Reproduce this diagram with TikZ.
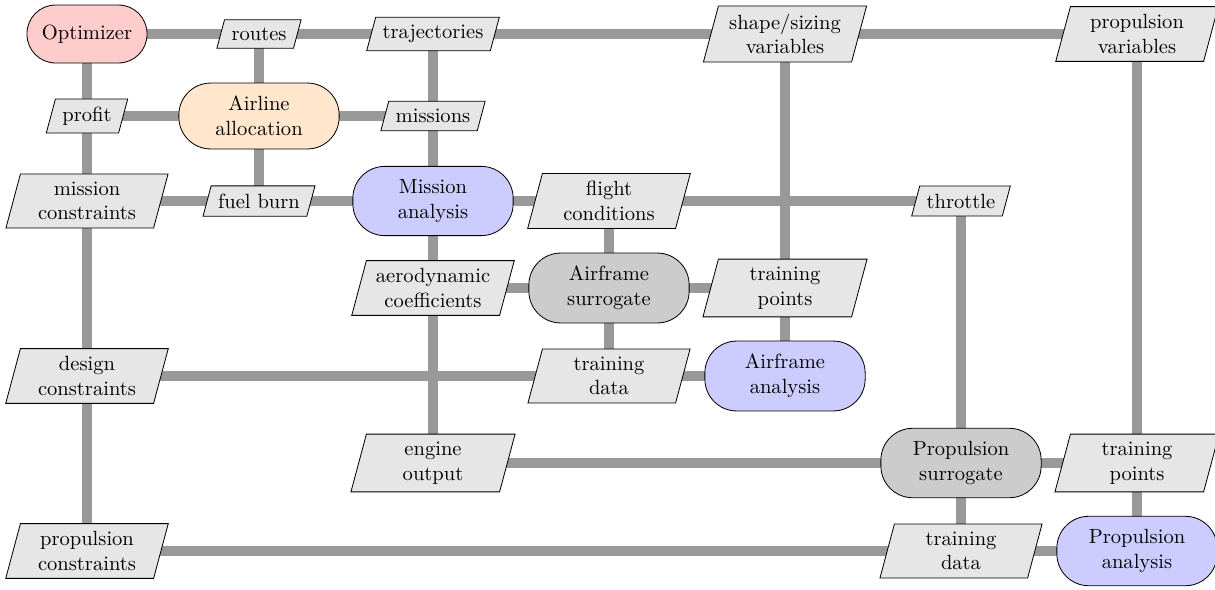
\documentclass[tikz,border=0pt]{standalone}
\usetikzlibrary{shapes.geometric,backgrounds}
\definecolor{optfill}{HTML}{FFCCCC}
\definecolor{allocfill}{HTML}{FFE6CC}
\definecolor{anafill}{HTML}{CCCCFF}
\definecolor{surrfill}{HTML}{CCCCCC}
\definecolor{datafill}{HTML}{E6E6E6}
\definecolor{flowcol}{HTML}{999999}
\begin{document}
\begin{tikzpicture}[x=0.4866pt,y=-0.4866pt,
  datanode/.style={trapezium, trapezium left angle=75, trapezium right angle=105,
    draw, fill=datafill, inner xsep=3.4pt, inner ysep=3.8pt},
  datawide/.style={datanode, text width=58pt, align=center},
  diag/.style={draw, rectangle, align=center, minimum width=78pt, inner ysep=6.4pt, rounded corners=15.5pt},
  optbox/.style={draw, rectangle, align=center, fill=optfill, minimum width=58.4pt, minimum height=28.2pt, rounded corners=13.9pt},
  flow/.style={line width=4.9pt, draw=flowcol}]
\useasboundingbox (0,0) rectangle (1215,589);
% row 0
\node[optbox] (opt) at (87,34) {Optimizer};
\node[datanode] (routes) at (259,34) {routes};
\node[datanode] (traj) at (433,34) {trajectories};
\node[datawide] (shape) at (785,34) {shape/sizing\\variables};
\node[datawide] (pvar) at (1137,34) {propulsion\\variables};
% row 1
\node[datanode] (profit) at (87,116) {profit};
\node[diag, fill=allocfill] (alloc) at (259,116) {Airline\\allocation};
\node[datanode] (missions) at (433,116) {missions};
% row 2
\node[datawide] (mcon) at (87,201) {mission\\constraints};
\node[datanode] (fuel) at (259,201) {fuel burn};
\node[diag, fill=anafill] (mission) at (433,201) {Mission\\analysis};
\node[datawide] (flight) at (609,201) {flight\\conditions};
\node[datanode] (throttle) at (961,201) {throttle};
% row 3
\node[datawide] (aero) at (433,288) {aerodynamic\\coefficients};
\node[diag, fill=surrfill] (afsur) at (609,288) {Airframe\\surrogate};
\node[datawide] (tpa) at (785,288) {training\\points};
% row 4
\node[datawide] (dcon) at (87,376) {design\\constraints};
\node[datawide] (tda) at (609,376) {training\\data};
\node[diag, fill=anafill] (afana) at (785,376) {Airframe\\analysis};
% row 5
\node[datawide] (engine) at (433,463) {engine\\output};
\node[diag, fill=surrfill] (prsur) at (961,463) {Propulsion\\surrogate};
\node[datawide] (tpp) at (1137,463) {training\\points};
% row 6
\node[datawide] (pcon) at (87,551) {propulsion\\constraints};
\node[datawide] (tdp) at (961,551) {training\\data};
\node[diag, fill=anafill] (prana) at (1137,551) {Propulsion\\analysis};
\begin{scope}[on background layer]
  % horizontal flows
  \draw[flow] (opt.center) -- (pvar.center);
  \draw[flow] (profit.center) -- (missions.center);
  \draw[flow] (mcon.center) -- (throttle.center);
  \draw[flow] (aero.center) -- (tpa.center);
  \draw[flow] (dcon.center) -- (afana.center);
  \draw[flow] (engine.center) -- (tpp.center);
  \draw[flow] (pcon.center) -- (prana.center);
  % vertical flows
  \draw[flow] (opt.center) -- (pcon.center);
  \draw[flow] (routes.center) -- (fuel.center);
  \draw[flow] (traj.center) -- (engine.center);
  \draw[flow] (flight.center) -- (tda.center);
  \draw[flow] (shape.center) -- (afana.center);
  \draw[flow] (throttle.center) -- (tdp.center);
  \draw[flow] (pvar.center) -- (prana.center);
\end{scope}
\end{tikzpicture}
\end{document}
